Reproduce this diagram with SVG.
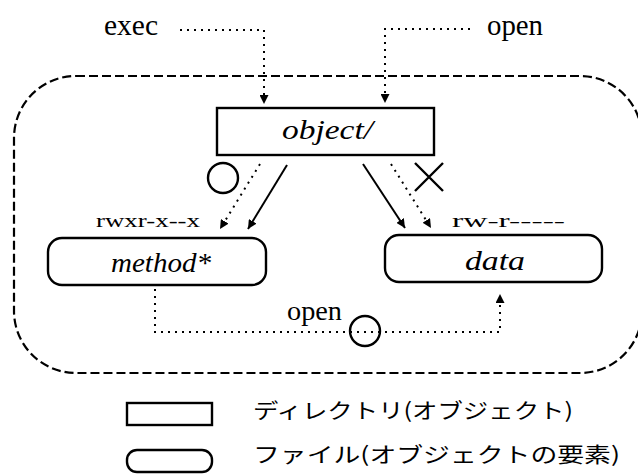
<svg xmlns="http://www.w3.org/2000/svg" width="638" height="475" viewBox="0 0 638 475">
<defs>
<marker id="ah" viewBox="0 0 10 10" refX="10" refY="5" markerWidth="9" markerHeight="9" markerUnits="userSpaceOnUse" orient="auto">
<path d="M0,0 L10,5 L0,10 z" fill="#000"/>
</marker>
<style>
.serif{font-family:"Liberation Serif","DejaVu Serif",serif;fill:#000}
.it{font-family:"Liberation Serif","DejaVu Serif",serif;font-style:italic;fill:#000}
.jp{font-family:"Noto Sans CJK JP","Noto Sans",sans-serif;fill:#000}
.box{fill:#fff;stroke:#000;stroke-width:2.4}
.solid{fill:none;stroke:#000;stroke-width:2}
.dot{fill:none;stroke:#000;stroke-width:2;stroke-dasharray:2 5}
.mark{fill:none;stroke:#000;stroke-width:2.4}
</style>
</defs>
<rect width="638" height="475" fill="#fff"/>
<rect x="14" y="76" width="628" height="297" rx="62" ry="62" fill="none" stroke="#000" stroke-width="2.2" stroke-dasharray="9 4"/>
<g id="connectors">
<path class="dot" d="M180,30 H264 V104" marker-end="url(#ah)"/>
<path class="dot" d="M470,29 H385 V103" marker-end="url(#ah)"/>
<path class="dot" d="M260,164 L220,229" marker-end="url(#ah)"/>
<path class="solid" d="M287,165 L248,229" marker-end="url(#ah)"/>
<path class="solid" d="M363,164 L405,228" marker-end="url(#ah)"/>
<path class="dot" d="M391,164 L431,228" marker-end="url(#ah)"/>
<path class="dot" d="M155,289 V332 H500 V294" marker-end="url(#ah)"/>
</g>
<g id="exec"><text class="serif" x="104" y="35" font-size="29" textLength="54" lengthAdjust="spacingAndGlyphs">exec</text></g>
<g id="open-top"><text class="serif" x="487" y="35" font-size="29" textLength="56" lengthAdjust="spacingAndGlyphs">open</text></g>
<g id="object">
<rect class="box" x="217" y="108" width="217" height="47"/>
<text class="it" x="282" y="139" font-size="28" textLength="91" lengthAdjust="spacingAndGlyphs">object/</text>
</g>
<g id="method">
<rect class="box" x="48" y="238" width="218" height="47" rx="14" ry="14"/>
<text class="it" x="111" y="272" font-size="28" textLength="100" lengthAdjust="spacingAndGlyphs">method*</text>
</g>
<g id="data">
<rect class="box" x="385" y="235" width="217" height="47" rx="14" ry="14"/>
<text class="it" x="465" y="270" font-size="28" textLength="60" lengthAdjust="spacingAndGlyphs">data</text>
</g>
<g id="perm-method"><text class="serif" x="96" y="227" font-size="19" textLength="104" lengthAdjust="spacingAndGlyphs">rwxr-x--x</text></g>
<g id="perm-data"><text class="serif" x="452" y="227" font-size="19" textLength="113" lengthAdjust="spacingAndGlyphs">rw-r-----</text></g>
<g id="ok-mark"><circle class="mark" cx="223" cy="178" r="15"/></g>
<g id="ng-mark"><path class="mark" d="M415,163 L443,191 M443,163 L415,191"/></g>
<g id="open-bottom"><text class="serif" x="287" y="320" font-size="27" textLength="55" lengthAdjust="spacingAndGlyphs">open</text></g>
<g id="ok-mark2"><circle class="mark" cx="365" cy="331" r="15"/></g>
<g id="legend-dir">
<rect class="box" x="127" y="403" width="85" height="22"/>
<text class="jp" x="253" y="418" font-size="21" textLength="320" lengthAdjust="spacingAndGlyphs">ディレクトリ(オブジェクト)</text>
</g>
<g id="legend-file">
<rect class="box" x="127" y="450" width="85" height="22" rx="10" ry="10"/>
<text class="jp" x="253" y="462" font-size="21" textLength="367" lengthAdjust="spacingAndGlyphs">ファイル(オブジェクトの要素)</text>
</g>
</svg>
